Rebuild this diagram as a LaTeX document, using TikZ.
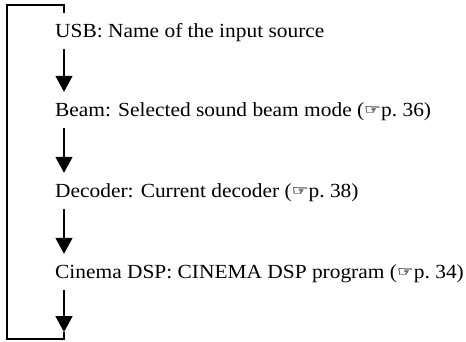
\documentclass[tikz,border=0pt]{standalone}
\usepackage{fontspec}
\setmainfont[FakeStretch=1.07]{Liberation Serif}
\newfontfamily\handfont{DejaVu Sans}
\usetikzlibrary{arrows.meta}

\newcommand{\fathand}{\rlap{\handfont\bfseries ☞}\kern0.5pt{\handfont\bfseries ☞}}
\newcommand{\pgref}[1]{(\raisebox{2pt}{\scalebox{0.92}[0.7]{\fathand}}p.~#1)}

\begin{document}
\begin{tikzpicture}[x=1pt,y=1pt,>={Triangle[width=17pt,length=16pt]},
  item/.style={anchor=base west,inner xsep=0pt,inner ysep=12pt,
    text height=12pt,text depth=0pt,font=\fontsize{20}{24}\selectfont},
  flow/.style={->,line width=1.6pt},
  loop/.style={line width=1.6pt}]
  \useasboundingbox (0,0) rectangle (466,341);
  % the four menu items
  \node[item] (usb) at (55,304) {USB: Name of the input source};
  \node[item] (beam) at (55,225) {Beam: Selected sound beam mode \pgref{36}};
  \node[item] (decoder) at (55,144) {Decoder: Current decoder \pgref{38}};
  \node[item] (cinema) at (55,63) {Cinema DSP: CINEMA DSP program \pgref{34}};
  \coordinate (axis) at (64,0);
  \coordinate (tip) at (64,9);
  \coordinate (end) at (64,2);
  \coordinate (back) at (7,336);
  % arrows
  \draw[flow] (usb.south -| axis) -- (beam.north -| axis);
  \draw[flow] (beam.south -| axis) -- (decoder.north -| axis);
  \draw[flow] (decoder.south -| axis) -- (cinema.north -| axis);
  \draw[flow] (cinema.south -| axis) -- (tip);
  % return line
  \draw[loop] (tip) -- (end) -| (back) -| (usb.north -| axis);
\end{tikzpicture}
\end{document}
